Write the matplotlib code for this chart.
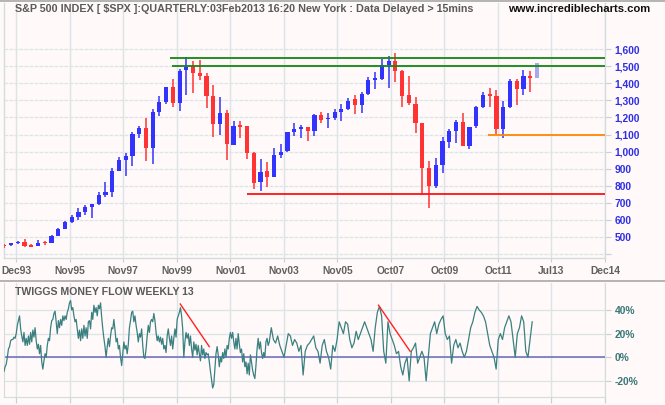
import numpy as np
import matplotlib
matplotlib.use("Agg")
import matplotlib.pyplot as plt

# ---------------- data ----------------
opens = [450, 455, 466, 470, 448, 449, 468, 466, 508, 549, 590, 619, 646, 677, 693, 748, 765, 888, 951, 974,
         1103, 1138, 1023, 1234, 1291, 1379, 1287, 1478, 1502, 1461, 1443, 1326, 1164, 1226, 1041, 1150, 1150, 992, 824, 886,
         853, 982, 1005, 1117, 1134, 1142, 1123, 1214, 1189, 1197, 1232, 1250, 1308, 1275, 1337, 1421, 1427, 1509, 1531, 1472,
         1332, 1279, 1168, 904, 800, 923, 1058, 1123, 1173, 1035, 1150, 1261, 1332, 1326, 1134, 1261, 1414, 1369, 1443, 1433]
highs = [461, 463, 476, 488, 461, 482, 476, 511, 554, 593, 631, 670, 687, 695, 761, 822, 902, 966, 990, 1115,
         1150, 1197, 1250, 1326, 1381, 1425, 1482, 1552, 1531, 1537, 1459, 1390, 1318, 1242, 1179, 1179, 1152, 998, 959, 939,
         1023, 1045, 1117, 1168, 1156, 1144, 1220, 1232, 1226, 1250, 1279, 1316, 1332, 1349, 1437, 1466, 1543, 1560, 1578, 1476,
         1443, 1320, 1170, 945, 963, 1086, 1132, 1185, 1226, 1146, 1267, 1349, 1375, 1361, 1296, 1425, 1425, 1478, 1472, 1519]
lows = [437, 449, 460, 443, 443, 447, 453, 462, 505, 545, 580, 601, 631, 613, 690, 736, 736, 885, 859, 918,
        1082, 947, 929, 1209, 1279, 1263, 1240, 1334, 1345, 1420, 1257, 1086, 1099, 953, 1037, 1080, 959, 783, 771, 795,
        850, 964, 1000, 1093, 1082, 1064, 1093, 1170, 1140, 1185, 1177, 1246, 1222, 1226, 1332, 1367, 1420, 1375, 1408, 1263,
        1273, 1109, 748, 672, 789, 877, 1023, 1052, 1033, 1017, 1140, 1255, 1263, 1101, 1082, 1258, 1275, 1334, 1349, 1433]
closes = [448, 462, 469, 447, 444, 464, 464, 504, 549, 588, 615, 646, 673, 693, 746, 763, 886, 951, 974, 1103,
          1138, 1023, 1232, 1291, 1379, 1287, 1472, 1498, 1463, 1443, 1328, 1164, 1226, 1047, 1148, 1146, 994, 818, 880, 853,
          980, 996, 1115, 1132, 1144, 1123, 1214, 1187, 1197, 1232, 1250, 1298, 1275, 1337, 1420, 1425, 1507, 1531, 1474, 1328,
          1287, 1170, 906, 800, 920, 1062, 1121, 1175, 1033, 1144, 1261, 1332, 1328, 1134, 1261, 1414, 1369, 1443, 1433, 1519]

x_labels = ["Dec93", "Nov95", "Nov97", "Nov99", "Nov01", "Nov03", "Nov05", "Oct07", "Oct09", "Oct11", "Jul13", "Dec14"]
price_ticks = [400, 500, 600, 700, 800, 900, 1000, 1100, 1200, 1300, 1400, 1500, 1600]

# horizontal support/resistance lines: (level, start quarter index)
green_levels = [1550, 1500]
green_start = [24.6, 24.8]
red_level = 750
red_start = 36.0
orange_level = 1100
orange_start = 71.7

# Twiggs money flow (%), two segments of evenly spaced readings
# segment A: 1993 .. mid-2003 (quarter index -0.05 .. 39.3)
mf_a = [-12, -8, -6, 0, 7, 9, 14, 15, 15, 17, 16, 20, 27, 31, 35,
        24, 18, 13, 21, 10, 16, 10, 18, 11, 21, 13, 23, 17, 25, 14, 7, 11, 3, 10, -4, -10, -3, 3, 0, 10,
        16, 14, 25, 31, 32, 37, 39, 30, 20, 31, 25, 32, 27, 35, 31, 35, 32, 38, 41, 46, 48, 40, 42, 35, 30,
        32, 24, 16, 23, 14, 24, 16, 27, 18, 25, 16, 30, 31, 24, 38, 32, 44, 38, 42, 35, 44, 41, 46, 34, 24,
        16, 9, 0, 9, 16, 9, 18, 25, 24, 32, 23, 13, 16, 7, 10, 0, -7, 3, 13, 7, 10, 3, 11, 25, 31,
        38, 39, 30, 35, 27, 21, 13, 20, 17, 24, 10, 0, -1, 7, 18, 27, 21, 30, 32, 30, 37, 31, 21, 14, 18,
        13, 17, 11, 16, 7, 10, 4, 18, 24, 16, 10, 18, 7, 16, 24, 17, 32, 35, 38, 42, 35, 24, 0, 13, 21,
        16, 20, 10, 18, 7, 0, 13, 6, 11, 2, 10, 3, -3, 10, 2, 7, -1, 4, 2, 3, -4, -12, -19, -26, -23,
        -10, 3, 9, 2, -8, 0, -4, 4, -1, 7, 0, 10, 7, 16, 21, 16, 21, 13, 7, 16, 7, 20, 11, 4, 7,
        -4, 3, -8, -4, -14, -5, -15, 2, -4, -11, -15, -18, -7, 7, 16, 7, 13, 4, -1, 4, 0, 13, 16, 10, 13]
mf_a_span = (-0.05, 39.3)
# segment B: mid-2003 .. Jan 2013 (quarter index 39.6 .. 78.3)
mf_b = [25, 15, 12, 18, 10, 5, 0, 10, 20, 18, 10, 15, 12, 5, 10, -15, 5, 10, 12, 15, 18, 8, 5, -5, 10,
        15, 5, 0, -10, 10, 5, 15, 30, 25, 20, 30, 28, 15, 8, 12, 22, 15, 20, 25, 30, 25, 20, 15, 5, 25,
        38, 43, 35, 5, -5, 30, 20, 15, 10, 3, 5, -8, -15, -5, 0, -20, 5, 8, 12, -5, 0, 5, 0, -20, 0,
        20, 25, 30, 20, 28, 32, 35, 20, 15, 18, -5, 10, 15, 8, 12, 5, 0, 5, 15, 25, 30, 38, 43, 40, 38,
        35, 30, 20, 10, 5, 0, -10, 15, 20, 15, 25, 30, 35, 30, 15, 0, 20, 25, 35, 30, 5, 0, 15, 30]
mf_b_span = (39.6, 78.3)

mf_ticks = [-20, 0, 20, 40]
mf_labels = ["-20%", "0%", "20%", "40%"]
# divergence trend lines (quarter index, %)
div1_x = [26.1, 30.4]
div1_y = [45, 9]
div2_x = [55.5, 60.2]
div2_y = [44, 5]

# ---------------- style ----------------
W, H = 665, 405
BG = "#FFF9F9"
GRID = "#DDE4E8"
BLUE = "#3333FF"
RED = "#FF3333"
CURRENT = "#A8A8F0"
TEAL = "#3B8080"
TITLE_FONT = ["Liberation Sans Narrow", "Liberation Sans", "DejaVu Sans"]
LABEL_FONT = ["Liberation Sans", "DejaVu Sans"]

plt.rcParams["font.family"] = LABEL_FONT
fig = plt.figure(figsize=(W / 100, H / 100), dpi=100, facecolor=BG)

def rect(x0, y0, x1, y1):
    return [x0 / W, 1 - y1 / H, (x1 - x0) / W, (y1 - y0) / H]

XL = (-0.05, 89.1)
tick_pos = 1.75 + 7.94 * np.arange(len(x_labels))

# ---------------- top panel ----------------
ax = fig.add_axes(rect(4, 3, 605, 258))
ax.set_facecolor(BG)
ax.set_xlim(*XL)
ax.set_ylim(377, 1870)
n = len(opens)
xs = np.arange(n)
o = np.array(opens); c = np.array(closes); hi = np.array(highs); lo = np.array(lows)
cols = [BLUE if cc >= oo else RED for oo, cc in zip(o, c)]
cols[-1] = CURRENT
ax.vlines(xs, lo, hi, colors=cols, linewidth=1.1, zorder=3)
bot = np.minimum(o, c)
hgt = np.maximum(np.abs(c - o), 7)
ax.bar(xs, hgt, bottom=bot, width=0.62, color=cols, linewidth=0, zorder=4)

for lvl, st in zip(green_levels, green_start):
    ax.hlines(lvl, st, XL[1], colors="#118811", linewidth=1.3, zorder=5)
ax.hlines(red_level, red_start, XL[1], colors="#FF1111", linewidth=1.3, zorder=5)
ax.hlines(orange_level, orange_start, XL[1], colors="#FF8800", linewidth=1.3, zorder=5)

ax.set_yticks(price_ticks)
ax.set_yticklabels(["" if v < 500 else f"{v:,}" for v in price_ticks])
ax.yaxis.tick_right()
ax.tick_params(axis="y", direction="out", length=4, width=0.8, color="#C8D0D4",
               labelcolor="#2F2FE6", labelsize=7.4, pad=3)
for t in ax.get_yticklabels():
    t.set_fontweight("bold")
ax.set_xticks(tick_pos)
ax.set_xticklabels(x_labels)
ax.tick_params(axis="x", direction="out", length=3, width=0.8, color="#C8D0D4",
               labelcolor="#606060", labelsize=7.4, pad=3)
for t in ax.get_xticklabels():
    t.set_fontweight("bold")
ax.grid(True, axis="y", color=GRID, linewidth=0.9, linestyle=(0, (3, 1)), zorder=0)
ax.grid(True, axis="x", color=GRID, linewidth=1.0, zorder=0)
ax.spines["top"].set_visible(False)
for s in ["left", "right", "bottom"]:
    ax.spines[s].set_color("#D4DCE0")
    ax.spines[s].set_linewidth(1.0)

# ---------------- bottom panel ----------------
bx = fig.add_axes(rect(4, 283, 605, 397))
bx.set_facecolor(BG)
bx.set_xlim(*XL)
bx.set_ylim(-33.6, 62.8)
mx = np.concatenate([np.linspace(*mf_a_span, len(mf_a)), np.linspace(*mf_b_span, len(mf_b))])
mv = np.concatenate([mf_a, mf_b])
bx.plot(mx, mv, color=TEAL, linewidth=0.9, zorder=3)
bx.axhline(0, color="#6A6AB8", linewidth=1.1, zorder=2)
bx.plot(div1_x, div1_y, color="#FF2222", linewidth=1.0, zorder=4)
bx.plot(div2_x, div2_y, color="#FF2222", linewidth=1.0, zorder=4)
bx.set_yticks(mf_ticks)
bx.set_yticklabels(mf_labels)
bx.yaxis.tick_right()
bx.tick_params(axis="y", direction="out", length=4, width=0.8, color="#C8D0D4",
               labelcolor="#3A7878", labelsize=7.4, pad=3)
for t in bx.get_yticklabels():
    t.set_fontweight("bold")
bx.set_xticks(tick_pos)
bx.set_xticklabels([])
bx.tick_params(axis="x", direction="out", length=4, width=0.8, color="#C8D0D4")
bx.grid(True, axis="y", color=GRID, linewidth=0.9, zorder=0)
bx.grid(True, axis="x", color=GRID, linewidth=1.0, zorder=0)
bx.spines["top"].set_visible(False)
for s in ["left", "right", "bottom"]:
    bx.spines[s].set_color("#D4DCE0")

# separators
fig.add_artist(plt.Line2D([0, 1], [1 - 0.5 / H, 1 - 0.5 / H], color="#A8A8A8", linewidth=1.2))
fig.add_artist(plt.Line2D([0, 1], [1 - 281 / H, 1 - 281 / H], color="#A8A8A8", linewidth=1.2))

# ---------------- titles ----------------
fig.canvas.draw()
renderer = fig.canvas.get_renderer()

def fit_text(x, y, s, width, **kw):
    t = fig.text(x / W, 1 - y / H, s, va="center", ha="left", **kw)
    for _ in range(3):
        bb = t.get_window_extent(renderer)
        t.set_fontsize(t.get_fontsize() * width / bb.width)
    return t

fit_text(15, 9, "S&P 500 INDEX [ $SPX ]:QUARTERLY:03Feb2013 16:20 New York : Data Delayed > 15mins",
         459, fontsize=8, fontweight="bold", color="#5A5A5A", family=TITLE_FONT)
fit_text(508, 9, "www.incrediblecharts.com", 143, fontsize=8, fontweight="bold", color="#111111",
         family=TITLE_FONT)
fit_text(15, 292, "TWIGGS MONEY FLOW WEEKLY 13", 178, fontsize=8, fontweight="bold", color="#5A5A5A",
         family=TITLE_FONT)

fig.savefig("out.png", dpi=100, facecolor=BG)
